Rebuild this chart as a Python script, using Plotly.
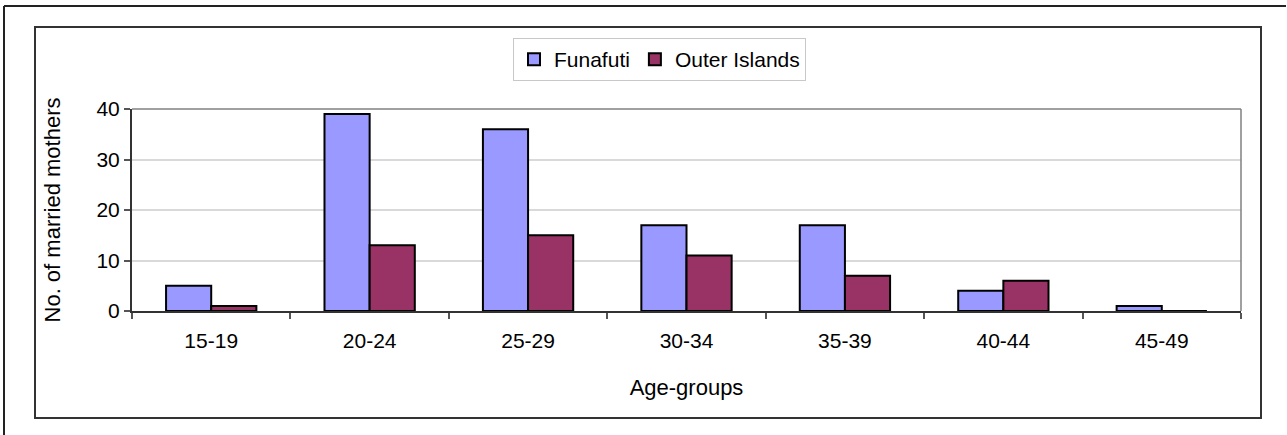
import plotly.graph_objects as go

age_groups = ["15-19", "20-24", "25-29", "30-34", "35-39", "40-44", "45-49"]
funafuti = [5, 39, 36, 17, 17, 4, 1]
outer_islands = [1, 13, 15, 11, 7, 6, 0]

W, H = 1287, 435
L, R, T, B = 132, 46, 109, 124
PW, PH = W - L - R, H - T - B

def px_x(x):
    return (x - L) / PW

def px_y(y):
    return (H - B - y) / PH

FONT = "Liberation Sans, Arial, sans-serif"

fig = go.Figure()
fig.add_trace(go.Bar(x=age_groups, y=funafuti, name="Funafuti",
                     marker=dict(color="#9999FF", line=dict(color="#000000", width=2))))
fig.add_trace(go.Bar(x=age_groups, y=outer_islands, name="Outer Islands",
                     marker=dict(color="#993366", line=dict(color="#000000", width=2))))

shapes = [
    dict(type="rect", xref="paper", yref="paper", x0=px_x(35), x1=px_x(1261), y0=px_y(418), y1=px_y(27),
         line=dict(color="#333333", width=2), fillcolor="rgba(0,0,0,0)", layer="below"),
    dict(type="line", xref="paper", yref="paper", x0=px_x(4), x1=px_x(1286), y0=px_y(6), y1=px_y(6),
         line=dict(color="#222222", width=2)),
    dict(type="line", xref="paper", yref="paper", x0=px_x(4), x1=px_x(4), y0=px_y(6), y1=px_y(436),
         line=dict(color="#222222", width=2)),
    dict(type="line", xref="paper", yref="paper", x0=0, x1=1, y0=1, y1=1,
         line=dict(color="#808080", width=1.5)),
    dict(type="line", xref="paper", yref="paper", x0=1, x1=1, y0=0, y1=1,
         line=dict(color="#808080", width=1.5)),
]

fig.update_layout(
    width=W, height=H,
    margin=dict(l=L, r=R, t=T, b=B, autoexpand=False),
    paper_bgcolor="white", plot_bgcolor="white",
    barmode="group", bargap=0.43, bargroupgap=0,
    font=dict(family=FONT, size=21, color="#000000"),
    showlegend=True,
    legend=dict(orientation="h", x=px_x(513), xanchor="left", y=px_y(38), yanchor="top",
                bordercolor="#c8c8c8", borderwidth=1, bgcolor="white",
                font=dict(family=FONT, size=21), itemwidth=30),
    shapes=shapes,
    xaxis=dict(
        showline=True, linecolor="#333333", linewidth=2,
        ticks="outside", tickson="boundaries", ticklen=6, tickcolor="#555555", tickwidth=1.5,
        tickfont=dict(family=FONT, size=21), ticklabelstandoff=10,
        title=dict(text="Age-groups", font=dict(family=FONT, size=22), standoff=28),
        showgrid=False, fixedrange=True,
    ),
    yaxis=dict(
        range=[0, 40], tickvals=[0, 10, 20, 30, 40],
        showline=True, linecolor="#333333", linewidth=2,
        ticks="outside", ticklen=6, tickcolor="#555555", tickwidth=1.5,
        tickfont=dict(family=FONT, size=21),
        showgrid=True, gridcolor="#d9d9d9", gridwidth=1.5,
        zeroline=False,
        title=dict(text="No. of married mothers", font=dict(family=FONT, size=22), standoff=30),
        fixedrange=True,
    ),
)

fig.write_html("out.html", config={"displayModeBar": False},
               post_script="document.body.style.margin='0';document.body.style.overflow='hidden';")
